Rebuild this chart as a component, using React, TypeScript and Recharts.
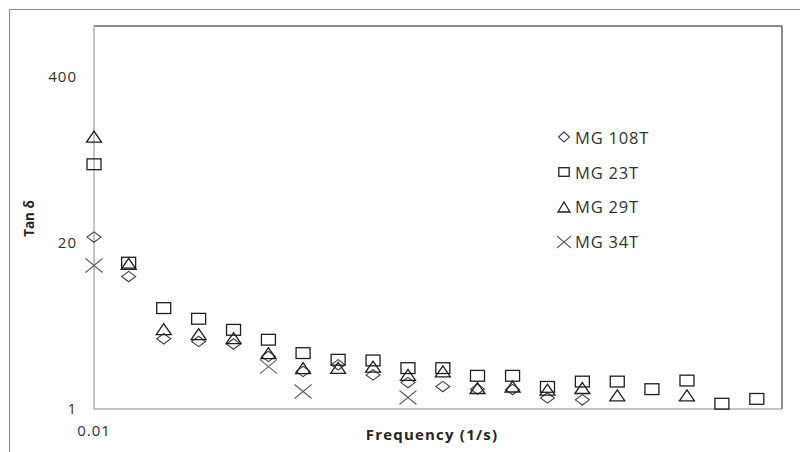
import { ScatterChart, Scatter, XAxis, YAxis, Legend, Label, ReferenceLine } from 'recharts';

// frequency (1/s), log spaced
const frequencies = [0.01, 0.0158, 0.0251, 0.0398, 0.0631, 0.1, 0.158, 0.251, 0.398, 0.631, 1, 1.58, 2.51, 3.98, 6.31, 10, 15.8, 25.1, 39.8, 63.1];

// tan delta per sample (null = not measured)
const mg108T = [22.2, 10.9, 3.55, 3.38, 3.23, 2.58, 1.97, 2.22, 1.85, 1.61, 1.5, 1.43, 1.42, 1.22, 1.18];
const mg23T = [82.6, 14.0, 6.17, 5.09, 4.17, 3.49, 2.74, 2.43, 2.4, 2.09, 2.09, 1.82, 1.82, 1.49, 1.64, 1.64, 1.43, 1.67, 1.1, 1.2];
const mg29T = [136, 13.7, 4.23, 3.86, 3.59, 2.74, 2.09, 2.1, 2.15, 1.85, 1.97, 1.46, 1.5, 1.42, 1.46, 1.28, null, 1.28];
const mg34T = [13.3, null, null, null, null, 2.15, 1.37, null, null, 1.23];

const yTicks = [1, 20, 400];
const xTicks = [0.01];

const FONT = '"Open Sans", sans-serif';
const AXIS_GREY = '#8c8c8c';

const toPoints = (values: (number | null)[]) =>
  values
    .map((v, i) => (v == null ? null : { x: frequencies[i], y: v }))
    .filter((p) => p !== null) as { x: number; y: number }[];

type MarkerProps = { cx?: number; cy?: number; small?: boolean };

const Diamond = ({ cx = 0, cy = 0, small }: MarkerProps) => {
  const w = small ? 5.5 : 7;
  const h = small ? 5 : 5.2;
  return (
    <polygon
      points={`${cx},${cy - h} ${cx + w},${cy} ${cx},${cy + h} ${cx - w},${cy}`}
      fill="none"
      stroke="#404040"
      strokeWidth={1.1}
    />
  );
};

const Square = ({ cx = 0, cy = 0, small }: MarkerProps) => {
  const w = small ? 5.2 : 7;
  const h = small ? 4.3 : 5.4;
  return <rect x={cx - w} y={cy - h} width={w * 2} height={h * 2} fill="none" stroke="#1f1f1f" strokeWidth={1.3} />;
};

const Triangle = ({ cx = 0, cy = 0, small }: MarkerProps) => {
  const w = small ? 6 : 7.5;
  const h = small ? 5 : 5.5;
  return (
    <polygon
      points={`${cx},${cy - h} ${cx + w},${cy + h} ${cx - w},${cy + h}`}
      fill="none"
      stroke="#1f1f1f"
      strokeWidth={1.3}
    />
  );
};

const Cross = ({ cx = 0, cy = 0, small }: MarkerProps) => {
  const w = small ? 7 : 8.5;
  const h = small ? 6 : 7;
  return (
    <g stroke="#5f5f5f" strokeWidth={1.1}>
      <line x1={cx - w} y1={cy - h} x2={cx + w} y2={cy + h} />
      <line x1={cx - w} y1={cy + h} x2={cx + w} y2={cy - h} />
    </g>
  );
};

const legendItems = [
  { name: 'MG 108T', Marker: Diamond },
  { name: 'MG 23T', Marker: Square },
  { name: 'MG 29T', Marker: Triangle },
  { name: 'MG 34T', Marker: Cross },
];

const renderLegend = () => (
  <div style={{ fontFamily: FONT }}>
    {legendItems.map(({ name, Marker }) => (
      <div key={name} style={{ display: 'flex', alignItems: 'center', height: 34.8 }}>
        <svg width={17} height={16}>
          <Marker cx={8} cy={8} small />
        </svg>
        <span style={{ marginLeft: 2, fontSize: 16.5, letterSpacing: 0.8, color: '#333' }}>{name}</span>
      </div>
    ))}
  </div>
);

export default function App() {
  const tickStyle = { fontFamily: FONT, fontSize: 15, fill: '#333', letterSpacing: 1 };

  return (
    <div style={{ position: 'relative', width: 800, height: 444 }}>
      <div
        style={{
          position: 'absolute',
          left: 1,
          top: 1,
          right: 0,
          bottom: 0,
          borderTop: `1px solid ${AXIS_GREY}`,
          borderLeft: `1px solid ${AXIS_GREY}`,
        }}
      />
      <ScatterChart
        width={800}
        height={444}
        margin={{ top: 18, right: 26, bottom: 3, left: 0 }}
        style={{ position: 'absolute', left: 0, top: 0 }}
      >
        <XAxis
          type="number"
          dataKey="x"
          scale="log"
          domain={[0.01, 88]}
          ticks={xTicks}
          tickFormatter={(v) => String(v)}
          height={40}
          tickLine={false}
          tickSize={0}
          tickMargin={16}
          axisLine={{ stroke: AXIS_GREY }}
          tick={tickStyle}
        >
          <Label
            content={({ viewBox }: any) => (
              <text
                x={viewBox.x + viewBox.width / 2 - 6}
                y={viewBox.y + 31}
                textAnchor="middle"
                fontFamily={FONT}
                fontSize={15}
                fontWeight="bold"
                letterSpacing={1.2}
                fill="#262626"
              >
                Frequency (1/s)
              </text>
            )}
          />
        </XAxis>
        <YAxis
          type="number"
          dataKey="y"
          scale="log"
          domain={[1, 1000]}
          ticks={yTicks}
          width={86}
          tickLine={false}
          tickSize={0}
          tickMargin={17}
          axisLine={{ stroke: AXIS_GREY }}
          tick={tickStyle}
        >
          <Label
            content={({ viewBox }: any) => (
              <text
                x={viewBox.x + 21}
                y={viewBox.y + viewBox.height / 2 + 1}
                transform={`rotate(-90, ${viewBox.x + 21}, ${viewBox.y + viewBox.height / 2 + 1})`}
                textAnchor="middle"
                dominantBaseline="central"
                fontFamily={FONT}
                fontSize={13.5}
                fontWeight="bold"
                fill="#262626"
              >
                Tan δ
              </text>
            )}
          />
        </YAxis>
        <ReferenceLine y={1000} stroke="#1a1a1a" strokeWidth={1} />
        <ReferenceLine x={88} stroke="#1a1a1a" strokeWidth={1} />
        <Scatter name="MG 108T" data={toPoints(mg108T)} isAnimationActive={false} shape={(p: any) => <Diamond cx={p.cx} cy={p.cy} />} />
        <Scatter name="MG 23T" data={toPoints(mg23T)} isAnimationActive={false} shape={(p: any) => <Square cx={p.cx} cy={p.cy} />} />
        <Scatter name="MG 29T" data={toPoints(mg29T)} isAnimationActive={false} shape={(p: any) => <Triangle cx={p.cx} cy={p.cy} />} />
        <Scatter name="MG 34T" data={toPoints(mg34T)} isAnimationActive={false} shape={(p: any) => <Cross cx={p.cx} cy={p.cy} />} />
        <Legend
          layout="horizontal"
          verticalAlign="middle"
          align="center"
          content={renderLegend}
          wrapperStyle={{ left: 548, top: 112, width: 'auto' }}
        />
      </ScatterChart>
    </div>
  );
}
